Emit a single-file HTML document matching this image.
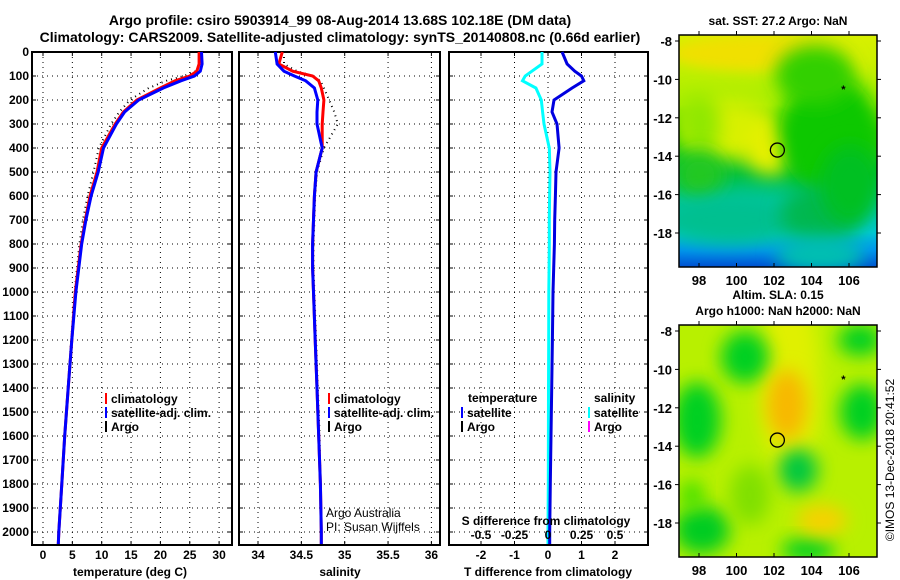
<!DOCTYPE html>
<html><head><meta charset="utf-8"><style>
body{margin:0;background:#fff;}
svg{display:block;font-family:"Liberation Sans",sans-serif;}
</style></head><body>
<svg id="c" width="900" height="580" xmlns="http://www.w3.org/2000/svg">
<defs>
<filter id="bl" x="-50%" y="-50%" width="200%" height="200%"><feGaussianBlur stdDeviation="9"/></filter>
<filter id="bl2" x="-50%" y="-50%" width="200%" height="200%"><feGaussianBlur stdDeviation="6"/></filter>
<clipPath id="m1"><rect x="679" y="35" width="198" height="232"/></clipPath>
<clipPath id="m2"><rect x="679" y="325" width="198" height="232"/></clipPath>
<linearGradient id="sst" x1="0" y1="0" x2="0" y2="1">
<stop offset="0" stop-color="#d8f000"/><stop offset="0.3" stop-color="#a8ee00"/><stop offset="0.42" stop-color="#30d000"/>
<stop offset="0.6" stop-color="#00c040"/><stop offset="0.72" stop-color="#00c8a0"/><stop offset="0.85" stop-color="#00c8d8"/>
<stop offset="0.93" stop-color="#0090f0"/><stop offset="1" stop-color="#0050d0"/></linearGradient>
</defs>
<text x="340" y="25" text-anchor="middle" font-size="14" font-weight="bold">Argo profile: csiro 5903914_99 08-Aug-2014 13.68S 102.18E (DM data)</text>
<text x="340" y="42" text-anchor="middle" font-size="14" font-weight="bold">Climatology: CARS2009. Satellite-adjusted climatology: synTS_20140808.nc (0.66d earlier)</text>
<g id="plots"></g>
<g id="maps"></g>
<text transform="translate(894,460) rotate(-90)" text-anchor="middle" font-size="12">©IMOS 13-Dec-2018 20:41:52</text>
</svg>
<script>
// ---- data ----
const depths = [0,50,80,100,120,150,200,250,300,400,500,600,700,800,900,1000,1200,1400,1600,1800,2000,2050];
const tempClim = [26.6,26.6,26.2,25,22.5,20,16,13.7,12.3,10,9.2,8,7.2,6.5,6,5.5,4.9,4.3,3.7,3.2,2.7,2.6];
const tempSat  = [27,27.1,26.8,25.8,23.5,20.5,16.3,13.9,12.5,10.3,9.4,8.2,7.3,6.6,6.1,5.6,4.9,4.3,3.7,3.2,2.7,2.6];
const tempArgo = [null,null,26,24,21,18,14.8,13,11.6,9.5,8.6,7.6,6.8,6.2,5.8,5.4,4.8,4.2,3.7,3.2,2.7,null];
const salClim = [34.28,34.24,34.4,34.63,34.7,34.73,34.76,34.75,34.74,34.74,34.67,34.65,34.64,34.63,34.63,34.64,34.66,34.68,34.7,34.72,34.73,34.73];
const salSat  = [34.2,34.22,34.3,34.42,34.55,34.65,34.69,34.68,34.68,34.74,34.67,34.65,34.64,34.63,34.63,34.64,34.66,34.68,34.7,34.72,34.73,34.73];
const salArgo = [34.3,34.3,34.45,34.63,34.72,34.76,34.82,34.88,34.92,34.76,34.68,34.66,34.65,34.64,34.64,34.65,34.67,34.69,34.71,34.72,34.73,null];
const tDiff = [0.42,0.57,0.8,1.0,1.07,0.72,0.18,0.12,0.27,0.33,0.24,0.22,0.2,0.19,0.17,0.15,0.13,0.11,0.09,0.07,0.05,0.05];
const sDiff = [-0.045,-0.045,-0.12,-0.17,-0.19,-0.09,-0.05,-0.04,-0.03,0.01,0.015,0.012,0.01,0.01,0.008,0.006,0.005,0.004,0.003,0.002,0.0,0.0];
const depthTicks = [0,100,200,300,400,500,600,700,800,900,1000,1100,1200,1300,1400,1500,1600,1700,1800,1900,2000];
const tempTicks = [0,5,10,15,20,25,30];
const salTicks = [34,34.5,35,35.5,36];
const tdTicks = [-2,-1,0,1,2];
const sdTicks = [-0.5,-0.25,0,0.25,0.5];
const sdTickLabels = ["-0.5","-0.25","0","0.25","0.5"];

const NS="http://www.w3.org/2000/svg";
const G=document.getElementById('plots');
function el(t,a,p){const e=document.createElementNS(NS,t);for(const k in a)e.setAttribute(k,a[k]);(p||G).appendChild(e);return e;}
const yD=d=>52+d*0.24;
const xT=t=>43+t*5.87;
const xS=s=>258+(s-34)*86.7;
const xTD=d=>548+d*33.5;
const xSD=d=>548+d*134;
const panels=[[32,232],[239,440],[449,648]];
const PT=52, PB=545;

function panel(i,vx,ticks,labels,name){
  const [x0,x1]=panels[i];
  const g=el('g',{});  
  depthTicks.forEach(d=>{const y=yD(d);
    el('line',{x1:x0,x2:x1,y1:y,y2:y,stroke:'#000','stroke-dasharray':'1,4','stroke-width':1},g);
    el('line',{x1:x0,x2:x0+4,y1:y,y2:y,stroke:'#000'},g);el('line',{x1:x1-4,x2:x1,y1:y,y2:y,stroke:'#000'},g);});
  ticks.forEach((t,j)=>{const x=vx(t);
    el('line',{x1:x,x2:x,y1:PT,y2:PB,stroke:'#000','stroke-dasharray':'1,4'},g);
    el('line',{x1:x,x2:x,y1:PB-4,y2:PB,stroke:'#000'},g);el('line',{x1:x,x2:x,y1:PT,y2:PT+4,stroke:'#000'},g);
    const tx=el('text',{x:x,y:PB+14,'text-anchor':'middle','font-size':12,'font-weight':'bold'},g);tx.textContent=labels[j];
    });
  el('rect',{x:x0,y:PT,width:x1-x0,height:PB-PT,fill:'none',stroke:'#000','stroke-width':2},g);
  return g;
}
function line(vals,vx,color,w,name,dash){
  const pts=[];depths.forEach((d,i)=>{if(vals[i]!=null)pts.push(vx(vals[i]).toFixed(1)+','+yD(d).toFixed(1));});
  const p=el('polyline',{points:pts.join(' '),fill:'none',stroke:color,'stroke-width':w});
  if(dash)p.setAttribute('stroke-dasharray',dash);
  
}
function txt(x,y,s,opt,name,parent){const t=el('text',Object.assign({x:x,y:y,'font-size':12,'font-weight':'bold'},opt||{}),parent);t.textContent=s;
  return t;}
function leg(x,y,color,label,name){el('line',{x1:x,x2:x,y1:y-10,y2:y+1,stroke:color,'stroke-width':2});txt(x+5,y,label,{},name);}

panel(0,xT,tempTicks,tempTicks.map(String),'temperature-panel');
panel(1,xS,salTicks,salTicks.map(String),'salinity-panel');
panel(2,xTD,tdTicks,tdTicks.map(String),'difference-panel');
depthTicks.forEach(d=>txt(29,yD(d)+4,String(d),{'text-anchor':'end'},'y-tick-label'));

line(tempArgo,xT,'#000',2,'temp-argo-line','1,4');
line(tempClim,xT,'#f00',3,'temp-climatology-line');
line(tempSat,xT,'#00f',3,'temp-satellite-line');
line(salArgo,xS,'#000',2,'sal-argo-line','1,4');
line(salClim,xS,'#f00',3,'sal-climatology-line');
line(salSat,xS,'#00f',3,'sal-satellite-line');
line(sDiff,xSD,'#00ffff',3,'sal-diff-line');
line(tDiff,xTD,'#0000e0',3,'temp-diff-line');

leg(106,403,'#f00','climatology','legend-climatology');
leg(106,417,'#00f','satellite-adj. clim.','legend-satellite');
leg(106,431,'#000','Argo','legend-argo');
leg(329,403,'#f00','climatology','legend-sal-climatology');
leg(329,417,'#00f','satellite-adj. clim.','legend-sal-satellite');
leg(329,431,'#000','Argo','legend-sal-argo');
txt(468,402,'temperature',{},'legend-temperature-header');
leg(462,417,'#00f','satellite','legend-td-satellite');
leg(462,431,'#000','Argo','legend-td-argo');
txt(594,402,'salinity',{},'legend-salinity-header');
leg(589,417,'#00ffff','satellite','legend-sd-satellite');
leg(589,431,'#f0f','Argo','legend-sd-argo');
txt(326,517,'Argo Australia',{'font-weight':'normal'},'argo-australia-note');
txt(326,531,'PI: Susan Wijffels',{'font-weight':'normal'},'pi-note');
txt(546,525,'S difference from climatology',{'text-anchor':'middle'},'s-diff-axis-title');
sdTicks.forEach((t,j)=>txt(xSD(t),539,sdTickLabels[j],{'text-anchor':'middle'},'s-diff-tick-label'));
txt(130,576,'temperature (deg C)',{'text-anchor':'middle'},'x-axis-title-temperature');
txt(340,576,'salinity',{'text-anchor':'middle'},'x-axis-title-salinity');
txt(548,576,'T difference from climatology',{'text-anchor':'middle'},'x-axis-title-difference');

// ---- maps ----
const M=document.getElementById('maps');
const lonTicks=[98,100,102,104,106];
const latTicks=[-8,-10,-12,-14,-16,-18];
const mx=l=>699+(l-98)*18.75;
function map(top,clip,name,bg,blobs,title){
  const g=el('g',{},M);
  const my=l=>top+6+(-8-l)*19.2;
  const cg=el('g',{'clip-path':'url(#'+clip+')'},g);
  el('rect',{x:679,y:top,width:198,height:232,fill:bg},cg);
  blobs.forEach(b=>el('ellipse',{cx:b[0],cy:b[1]+top,rx:b[2],ry:b[3],fill:b[4],filter:'url(#'+(b[5]||'bl')+')'},cg));
  el('rect',{x:679,y:top,width:198,height:232,fill:'none',stroke:'#000','stroke-width':1.5},g);
  lonTicks.forEach(l=>{const x=mx(l);el('line',{x1:x,x2:x,y1:top+232,y2:top+228,stroke:'#000'},g);el('line',{x1:x,x2:x,y1:top,y2:top-4,stroke:'#000'},g);
    txt(x,top+250,String(l),{'text-anchor':'middle','font-size':13},'map-lon-label',g);});
  latTicks.forEach(l=>{const y=my(l);el('line',{x1:679,x2:675,y1:y,y2:y,stroke:'#000'},g);el('line',{x1:877,x2:881,y1:y,y2:y,stroke:'#000'},g);
    txt(672,y+5,String(l),{'text-anchor':'end','font-size':13},'map-lat-label',g);});
  const c=el('circle',{cx:mx(102.18),cy:my(-13.68),r:7,fill:'none',stroke:'#000','stroke-width':1.3},g);
  
  txt(mx(105.7),my(-10.5)+4,'*',{'text-anchor':'middle','font-size':11},'float-marker',g);
  const n=title.length;
  title.forEach((t,i)=>txt(778,top-10-(n-1-i)*16,t,{'text-anchor':'middle'},'map-title',g));
}
map(35,'m1','sst-map','url(#sst)',[
 [730,95,50,30,'#d8f000'],[770,115,25,25,'#e8f000'],[760,18,90,18,'#f0e000','bl2'],[840,25,30,18,'#e0f000'],
 [830,100,50,60,'#10c800'],[815,40,40,30,'#30d000'],[700,90,20,30,'#90e800'],[700,140,25,25,'#20c820'],
 [730,185,70,25,'#00c090'],[820,180,40,30,'#00b850'],[850,150,30,40,'#00c020'],[820,220,45,18,'#00c0b0']
],['sat. SST: 27.2 Argo: NaN']);
map(325,'m2','sla-map','#b8f000',[
 [790,60,30,100,'#e0f000'],[745,32,24,26,'#00d020'],[697,95,24,38,'#00d020'],[862,87,22,28,'#00d020'],[860,15,22,16,'#00d020'],
 [798,145,20,22,'#00c840'],[702,205,28,24,'#00cc20'],[808,225,27,12,'#00d020'],[692,170,12,15,'#40e000'],
 [787,80,20,35,'#f8b800'],[822,195,25,15,'#f8d000'],[750,170,20,30,'#80e000']
],['Altim. SLA: 0.15','Argo h1000: NaN h2000: NaN']);
</script>
</body></html>
